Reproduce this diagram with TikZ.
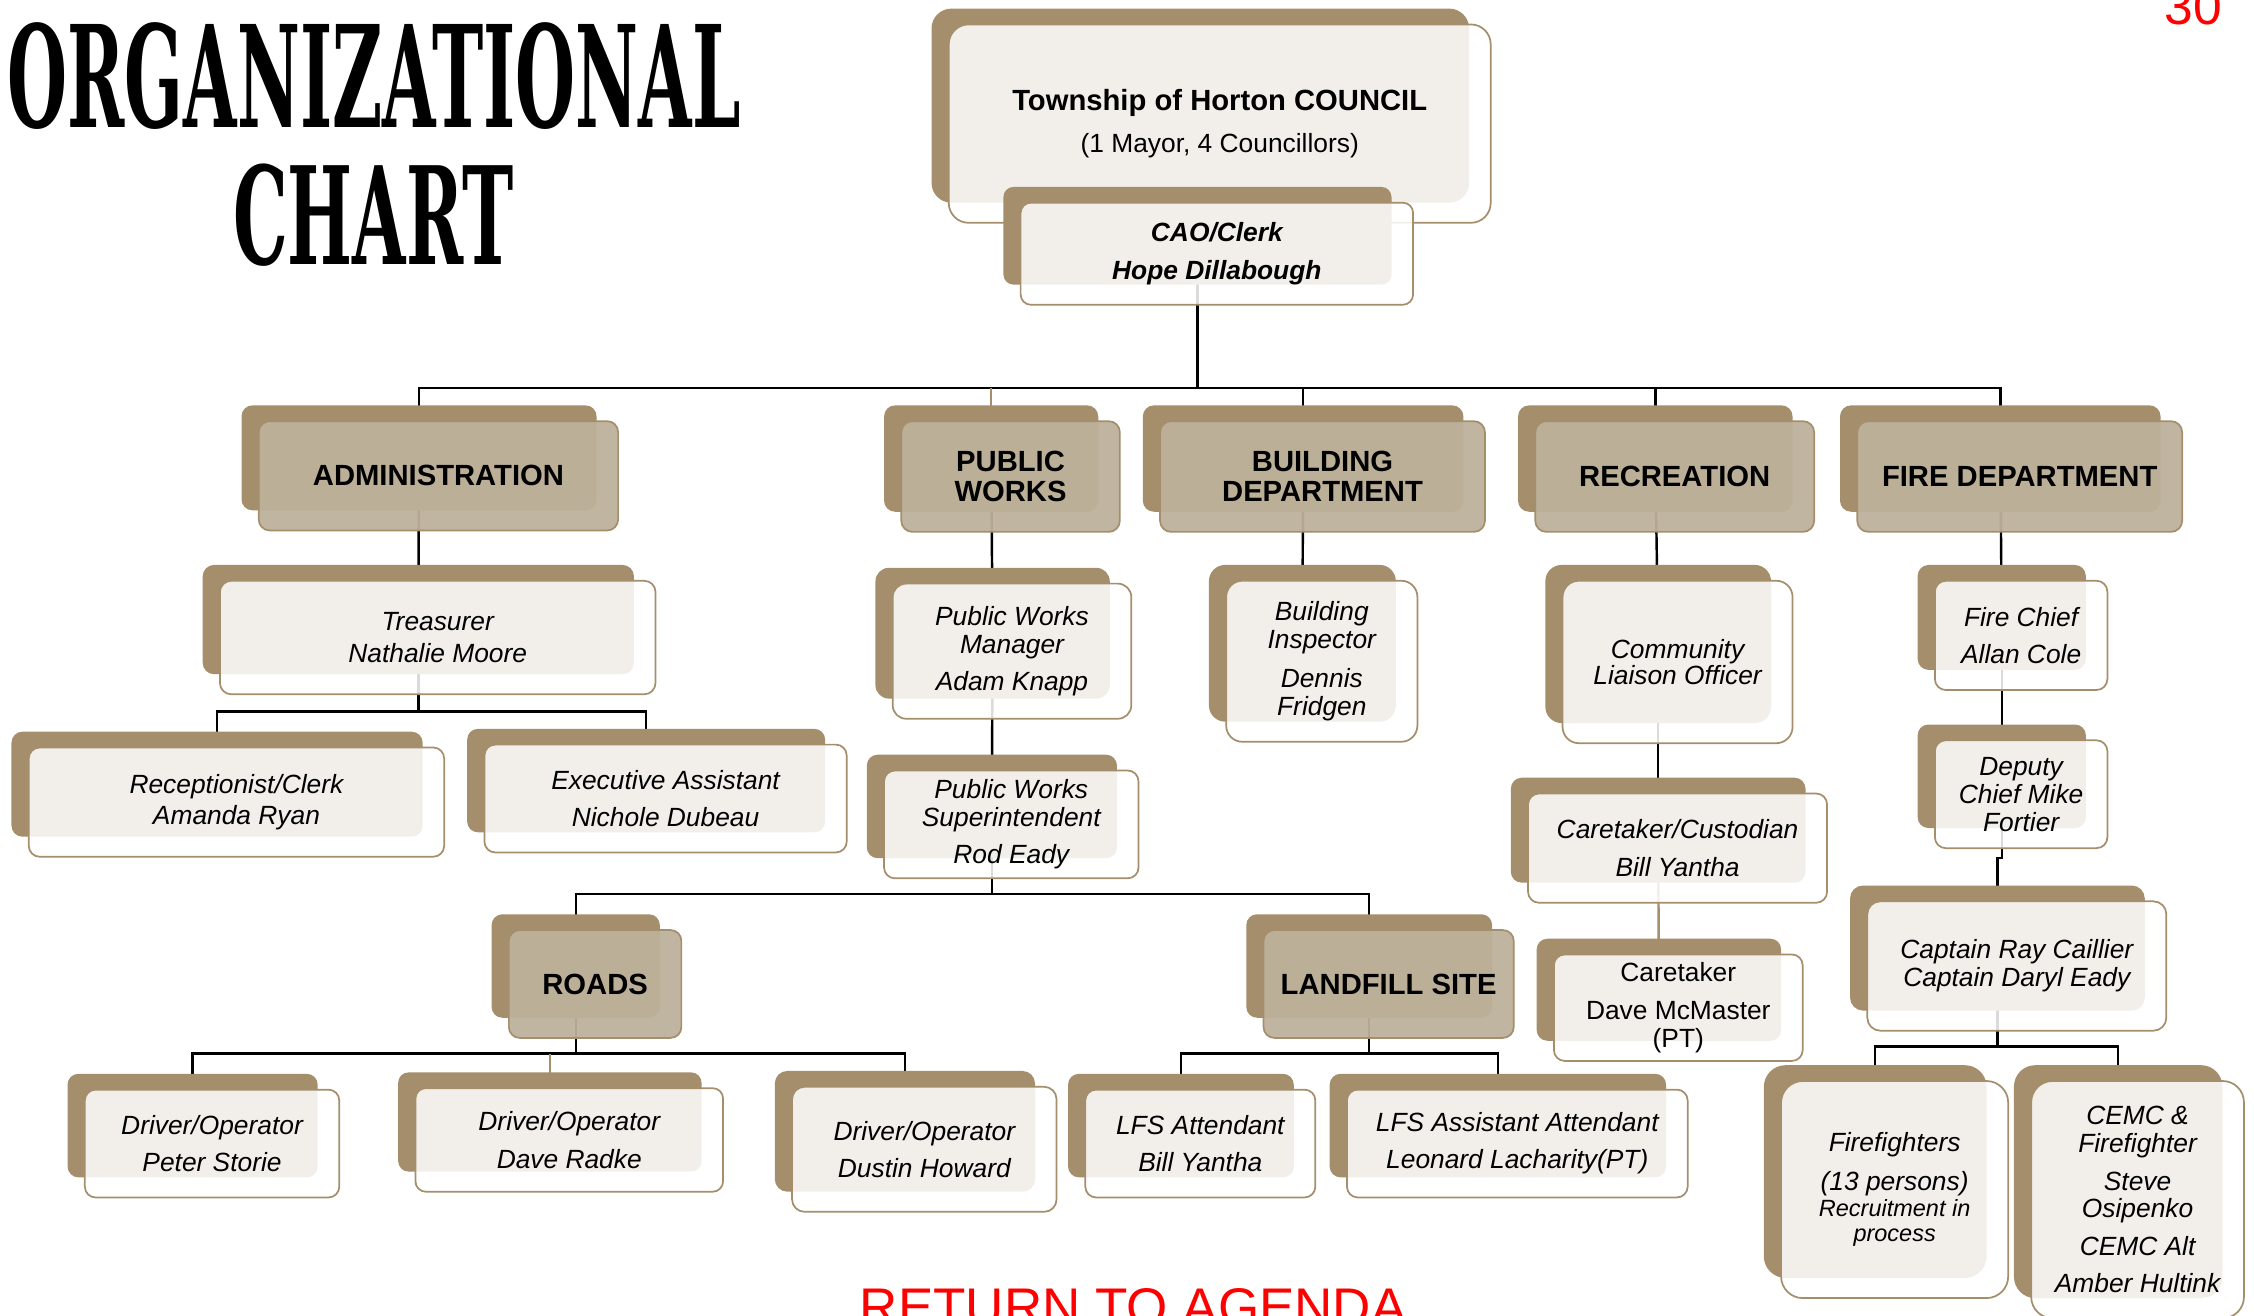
\documentclass[tikz,border=0pt]{standalone}
\usepackage{fontspec}
\setmainfont{Liberation Sans}
\newfontfamily\titlefont{DejaVu Serif}
\usetikzlibrary{backgrounds}

\definecolor{tanback}{RGB}{165,142,108}
\definecolor{tanfront}{RGB}{189,177,155}
\definecolor{agendared}{RGB}{255,0,0}

\tikzset{
  backbox/.style={fill=tanback, inner sep=0pt},
  cardbox/.style={draw=tanback, line width=1.2bp, fill=white, fill opacity=0.86,
    text opacity=1, inner sep=0pt, align=center,
    font=\fontsize{18.4}{19.5}\selectfont\itshape},
  deptbox/.style={draw=tanback, line width=1.2bp, fill=tanfront, fill opacity=0.95,
    text opacity=1, inner sep=0pt, align=center,
    font=\fontsize{20.4}{21}\selectfont\bfseries},
  conn/.style={line width=1.7bp, black},
  softconn/.style={line width=1.7bp, tanback},
}

% \obox{style}{name}{x1}{y1}{x2}{y2}{text}: front card (x1,y1)-(x2,y2)
% with its darker tab set behind it, up and to the left.
\newcommand\obox[7]{%
  \pgfmathsetmacro\obW{#5-#3}%
  \pgfmathsetmacro\obH{#6-#4}%
  \pgfmathsetmacro\obR{0.1*min(\obW,\obH)}%
  \pgfmathsetmacro\obCX{(#3+#5)/2}%
  \pgfmathsetmacro\obCY{(#4+#6)/2}%
  \node[backbox, minimum width=\obW bp-3bp, minimum height=\obH bp-3bp,
        rounded corners=\obR bp] (#2-b) at (\obCX-13.5,\obCY-12.5) {};
  \node[#1, minimum width=\obW bp, minimum height=\obH bp,
        rounded corners=\obR bp] (#2) at (\obCX,\obCY) {#7};
}

\begin{document}
\begin{tikzpicture}[x=1bp, y=-1bp]
\useasboundingbox (0,0) rectangle (1568,915);
\clip (0,0) rectangle (1568,915);

% heading
\node[anchor=base west, inner sep=0pt] (title1) at (5,89)
  {\resizebox{510bp}{73bp}{\titlefont\bfseries ORGANIZATIONAL}};
\node[anchor=base west, inner sep=0pt] (title2) at (162,184)
  {\resizebox{195bp}{70bp}{\titlefont\bfseries CHART}};
\node[anchor=base east, inner sep=0pt, text=agendared,
      font=\fontsize{36}{36}\selectfont] (pagenum) at (1546,17) {30};
\node[anchor=base west, inner sep=0pt, text=agendared,
      font=\fontsize{37}{37}\selectfont] (agenda) at (598,922) {RETURN TO AGENDA};

% council and CAO
\obox{cardbox, font=\fontsize{20.4}{24}\selectfont}{council}{660}{17}{1037}{155}
  {\bfseries Township of Horton COUNCIL\\[5bp]{\fontsize{18.4}{22}\selectfont (1 Mayor, 4 Councillors)}}
\obox{cardbox, font=\fontsize{18.4}{27}\selectfont\bfseries\itshape}{cao}{710}{141}{983}{212}
  {CAO/Clerk\\Hope Dillabough}

% departments
\obox{deptbox}{admin}{180}{293}{430}{369}{ADMINISTRATION}
\obox{deptbox}{pw}{627}{293}{779}{370}{PUBLIC\\WORKS}
\obox{deptbox}{bld}{807}{293}{1033}{370}{BUILDING\\DEPARTMENT}
\obox{deptbox}{rec}{1068}{293}{1262}{370}{RECREATION}
\obox{deptbox}{fire}{1292}{293}{1518}{370}{FIRE DEPARTMENT}

% administration
\obox{cardbox}{treas}{153}{404}{456}{483}{Treasurer\\[2.5bp]Nathalie Moore}
\obox{cardbox}{recep}{20}{520}{309}{596}{Receptionist/Clerk\\[2.5bp]Amanda Ryan}
\obox{cardbox}{exec}{337}{518}{589}{593}{Executive Assistant\\[6.5bp]Nichole Dubeau}

% public works
\obox{cardbox}{pwm}{621}{406}{787}{500}{Public Works\\Manager\\[6.5bp]Adam Knapp}
\obox{cardbox}{pws}{615}{536}{792}{611}{Public Works\\Superintendent\\[6.5bp]Rod Eady}
\obox{deptbox}{roads}{354}{647}{474}{722}{ROADS}
\obox{deptbox}{lfs}{879}{647}{1053}{722}{LANDFILL SITE}
\obox{cardbox}{drv1}{59}{758}{236}{833}{Driver/Operator\\[6.5bp]Peter Storie}
\obox{cardbox}{drv2}{289}{757}{503}{829}{Driver/Operator\\[6.5bp]Dave Radke}
\obox{cardbox}{drv3}{551}{756}{735}{843}{Driver/Operator\\[6.5bp]Dustin Howard}
\obox{cardbox}{lfsa}{755}{758}{915}{833}{LFS Attendant\\[6.5bp]Bill Yantha}
\obox{cardbox}{lfsb}{937}{758}{1174}{833}{LFS Assistant Attendant\\[6.5bp]Leonard Lacharity(PT)}

% building
\obox{cardbox}{binsp}{853}{404}{986}{516}{Building\\Inspector\\[7.5bp]Dennis\\Fridgen}

% recreation
\obox{cardbox}{cli}{1087}{404}{1247}{517}{Community\\[-1.5bp]Liaison Officer}
\obox{cardbox}{cust}{1063}{552}{1271}{628}{Caretaker/Custodian\\[6.5bp]Bill Yantha}
\obox{cardbox, font=\fontsize{18.4}{19.5}\selectfont}{care}{1081}{664}{1254}{738}
  {Caretaker\\[6.5bp]Dave McMaster\\(PT)}

% fire department
\obox{cardbox}{fchief}{1346}{404}{1466}{480}{Fire Chief\\[6.5bp]Allan Cole}
\obox{cardbox}{deputy}{1346}{515}{1466}{590}{Deputy\\Chief Mike\\Fortier}
\obox{cardbox}{capt}{1299}{627}{1507}{717}{Captain Ray Caillier\\Captain Daryl Eady}
\obox{cardbox}{ffight}{1239}{752}{1397}{903}
  {Firefighters\\[7.5bp](13 persons)\\[-1.5bp]{\fontsize{16.4}{18}\selectfont Recruitment in}\\[-1.5bp]{\fontsize{16.4}{18}\selectfont process}}
\obox{cardbox}{cemc}{1413}{752}{1561}{917}
  {CEMC \&\\Firefighter\\[6.5bp]Steve\\Osipenko\\[6.5bp]CEMC Alt\\[6.5bp]Amber Hultink}

% bus bars
\coordinate (bar0) at (0,270);
\coordinate (barA) at (0,495);
\coordinate (barP) at (0,622);
\coordinate (barR) at (0,733);
\coordinate (barF) at (0,728);
\coordinate (jog) at (0,597);

\begin{scope}[on background layer]
  % council level
  \draw[conn] (cao-b.center) -- (cao-b.center |- bar0) -| (admin-b.center);
  \draw[conn] (cao-b.center |- bar0) -| (bld-b.center);
  \draw[conn] (cao-b.center |- bar0) -| (rec-b.center);
  \draw[conn] (cao-b.center |- bar0) -| (fire-b.center);
  \draw[conn] (cao-b.center |- bar0) -- (pw-b.center |- bar0);
  \draw[softconn] (pw-b.center |- bar0) -- (pw-b.center);
  % administration
  \draw[conn] (admin-b.center) -- (treas-b.center);
  \draw[conn] (treas-b.center) -- (treas-b.center |- barA) -| (recep-b.center);
  \draw[conn] (treas-b.center |- barA) -| (exec-b.center);
  % public works
  \draw[conn] (pw-b.center) -- (pwm-b.center);
  \draw[conn] (pwm-b.center) -- (pws-b.center);
  \draw[conn] (pws-b.center) -- (pws-b.center |- barP) -| (roads-b.center);
  \draw[conn] (pws-b.center |- barP) -| (lfs-b.center);
  \draw[conn] (roads-b.center) -- (roads-b.center |- barR) -| (drv1-b.center);
  \draw[conn] (roads-b.center |- barR) -| (drv3-b.center);
  \draw[softconn] (drv2-b.center |- barR) -- (drv2-b.center);
  \draw[conn] (lfs-b.center) -- (lfs-b.center |- barR) -| (lfsa-b.center);
  \draw[conn] (lfs-b.center |- barR) -| (lfsb-b.center);
  % building
  \draw[conn] (bld-b.center) -- (binsp-b.center);
  % recreation
  \draw[conn] (rec-b.center) -- (cli-b.center);
  \draw[conn] (cli-b.center) -- (cust-b.center);
  \draw[softconn] (cust-b.center) -- (care-b.center);
  % fire department
  \draw[conn] (fire-b.center) -- (fchief-b.center);
  \draw[conn] (fchief-b.center) -- (deputy-b.center);
  \draw[conn] (deputy-b.center) -- (deputy-b.center |- jog) -| (capt-b.center);
  \draw[conn] (capt-b.center) -- (capt-b.center |- barF) -| (ffight-b.center);
  \draw[conn] (capt-b.center |- barF) -| (cemc-b.center);
\end{scope}
\end{tikzpicture}
\end{document}
